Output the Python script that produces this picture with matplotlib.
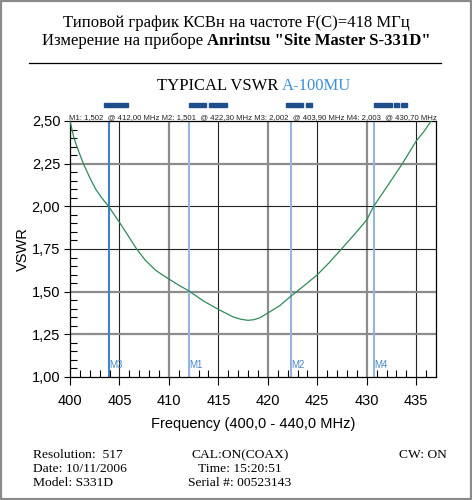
import numpy as np
import matplotlib.pyplot as plt
from matplotlib.patches import Rectangle
from matplotlib.lines import Line2D

# curve
freq = [400.0, 400.4, 400.8, 401.35, 402.0, 402.6, 403.2, 403.9, 405.0, 405.9,
        406.74, 407.6, 408.6, 409.3, 410.0, 411.0, 412.0, 413.5, 415.0, 416.5,
        417.3, 418.0, 418.6, 419.2, 420.0, 421.2, 422.3, 423.6, 425.0, 426.2,
        427.44, 428.7, 430.0, 430.7, 432.1, 433.6, 435.0, 435.8, 436.5]
vswr = [2.50, 2.40, 2.334, 2.25, 2.168, 2.10, 2.05, 2.00, 1.906, 1.826,
        1.75, 1.685, 1.628, 1.60, 1.574, 1.538, 1.505, 1.445, 1.396, 1.352,
        1.338, 1.332, 1.336, 1.347, 1.375, 1.418, 1.472, 1.532, 1.599, 1.67,
        1.75, 1.832, 1.921, 2.00, 2.12, 2.25, 2.383, 2.44, 2.50]

marker_names = ['M3', 'M1', 'M2', 'M4']
marker_freq = [403.9, 412.0, 422.3, 430.7]
marker_text = ('M1: 1,502  @ 412,00 MHz M2: 1,501  @ 422,30 MHz '
               'M3: 2,002  @ 403,90 MHz M4: 2,003  @ 430,70 MHz')

xticks = [400, 405, 410, 415, 420, 425, 430, 435]
yticks = [1.00, 1.25, 1.50, 1.75, 2.00, 2.25, 2.50]
ytick_labels = ['1,00', '1,25', '1,50', '1,75', '2,00', '2,25', '2,50']

info_left = ['Resolution:  517', 'Date: 10/11/2006', 'Model: S331D']
info_mid = ['CAL:ON(COAX)', 'Time: 15:20:51', 'Serial #: 00523143']
info_right = 'CW: ON'

W, H = 472, 500
SERIF = 'Liberation Serif'
SANS = 'Liberation Sans'


def fx(x):
    return x / W


def fy(y):
    return 1 - y / H


fig = plt.figure(figsize=(W / 100, H / 100), dpi=100)
fig.patch.set_facecolor('white')

# outer frame
fig.patches.append(Rectangle((0.002, 0.002), 0.996, 0.996, transform=fig.transFigure,
                             fill=False, edgecolor='#8a8a8a', linewidth=1.6))

ax = fig.add_axes([fx(70), fy(377), fx(436) - fx(70), fy(121) - fy(377)])
ax.set_xlim(400, 437)
ax.set_ylim(1.0, 2.5)

# grid: heavier grey lines and thin black ones
grey_x = [410, 420, 430]
black_x = [405, 415, 425, 435]
grey_y = [2.25, 1.50, 1.25]
black_y = [2.00, 1.75]
for v in grey_x:
    ax.axvline(v, color='#8c8c8c', lw=1.6, zorder=1)
for v in black_x:
    ax.axvline(v, color='#222222', lw=0.8, zorder=1)
for v in grey_y:
    ax.axhline(v, color='#8c8c8c', lw=1.6, zorder=1)
for v in black_y:
    ax.axhline(v, color='#222222', lw=0.8, zorder=1)

# marker lines
for name, f in zip(marker_names, marker_freq):
    col = '#3f82c6' if name == 'M3' else '#93b6da'
    ax.axvline(f, color=col, lw=1.5, zorder=2)
    ax.text(f + 0.05, 1.04, name, color='#4a86c8', fontsize=7,
            family=SANS, ha='left', va='bottom', zorder=3)

ax.plot(freq, vswr, color='#2e8b5a', lw=0.9, zorder=4, clip_on=True)

for s in ax.spines.values():
    s.set_color('black')
    s.set_linewidth(0.9)

ax.set_xticks(xticks)
ax.set_xticklabels([str(t) for t in xticks])
ax.set_yticks(yticks)
ax.set_yticklabels(ytick_labels)
ax.set_xticks(np.arange(401, 437, 1), minor=True)
ax.set_yticks(np.arange(1.05, 2.5, 0.05), minor=True)
ax.tick_params(axis='x', which='major', direction='out', length=6, width=0.8,
               labelsize=10.5, pad=6)
ax.tick_params(axis='y', which='major', direction='out', length=4, width=0.8,
               labelsize=10.5, pad=3)
ax.tick_params(axis='both', which='minor', direction='in', length=5, width=0.8)
for lab in ax.get_xticklabels() + ax.get_yticklabels():
    lab.set_family(SANS)

ax.set_xlabel('Frequency (400,0 - 440,0 MHz)', family=SANS, fontsize=10.5, labelpad=7)
ax.set_ylabel('VSWR', family=SANS, fontsize=10.5, labelpad=1)

# readout row above the plot
fig.text(fx(253), fy(119), marker_text, family=SANS, fontsize=5.6,
         ha='center', va='baseline', color='#222222')

# dark blue blocks above the readout
blocks = [(104, 128), (189, 206), (209, 227), (286, 303), (306, 312),
          (374, 392), (394, 399), (401, 407)]
for x0, x1 in blocks:
    fig.patches.append(Rectangle((fx(x0), fy(107)), fx(x1) - fx(x0), fy(103) - fy(107),
                                 transform=fig.transFigure, color='#1f4f8a'))

# rule under heading
fig.add_artist(Line2D([fx(29), fx(441)], [fy(63), fy(63)], color='black', lw=0.9))


def centered_line(parts, xc, y, size):
    texts = []
    for s, kw in parts:
        texts.append(fig.text(0, fy(y), s, fontsize=size, family=SERIF,
                              va='baseline', ha='left', **kw))
    fig.canvas.draw()
    r = fig.canvas.get_renderer()
    widths = [t.get_window_extent(r).width for t in texts]
    x = xc - sum(widths) / 2
    for t, w in zip(texts, widths):
        t.set_x(fx(x))
        x += w


centered_line([('Типовой график КСВн на частоте F(C)=418 МГц', {})], 236, 27, 12)
centered_line([('Измерение на приборе ', {}),
               ('Anrintsu "Site Master S-331D"', {'weight': 'bold'})], 236, 45, 12)
centered_line([('TYPICAL VSWR ', {}), ('A-100MU', {'color': '#3a8fd6'})], 254, 90, 12)

# footer
for i, s in enumerate(info_left):
    fig.text(fx(33), fy(458 + 14 * i), s, family=SERIF, fontsize=9.7,
             ha='left', va='baseline')
for i, s in enumerate(info_mid):
    fig.text(fx(240), fy(458 + 14 * i), s, family=SERIF, fontsize=9.7,
             ha='center', va='baseline')
fig.text(fx(447), fy(458), info_right, family=SERIF, fontsize=9.7,
         ha='right', va='baseline')

fig.savefig('out.png', dpi=100, facecolor='white')
